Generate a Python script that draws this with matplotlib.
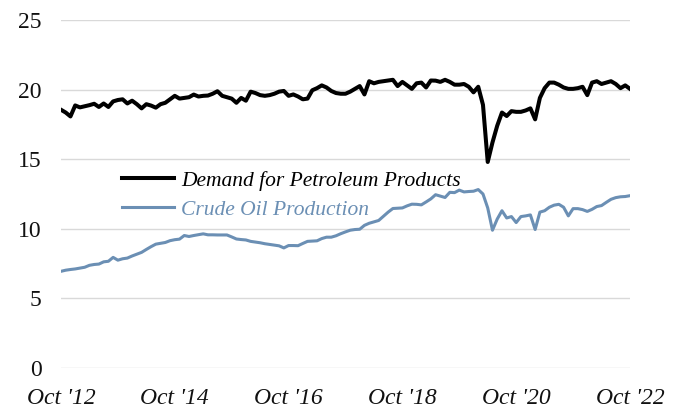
import matplotlib
matplotlib.use("Agg")
import matplotlib.pyplot as plt
import numpy as np

# monthly values, Oct 2012 .. Oct 2022 (million barrels per day)
demand = [18.55, 18.35, 18.07, 18.86, 18.72, 18.8, 18.88, 18.98, 18.75, 19.0,
          18.75, 19.15, 19.25, 19.3, 19.0, 19.2, 18.95, 18.65, 18.95, 18.85,
          18.7, 18.95, 19.05, 19.3, 19.55, 19.35, 19.4, 19.45, 19.64, 19.5,
          19.55, 19.57, 19.7, 19.88, 19.55, 19.45, 19.35, 19.05, 19.4, 19.2,
          19.85, 19.75, 19.6, 19.55, 19.6, 19.7, 19.85, 19.9, 19.55, 19.65,
          19.5, 19.3, 19.35, 19.95, 20.1, 20.3, 20.15, 19.9, 19.75, 19.7,
          19.7, 19.85, 20.05, 20.25, 19.65, 20.6, 20.45, 20.55, 20.6, 20.65,
          20.7, 20.25, 20.55, 20.3, 20.05, 20.45, 20.5, 20.15, 20.65, 20.64,
          20.55, 20.7, 20.55, 20.35, 20.35, 20.4, 20.2, 19.8, 20.2, 18.9,
          14.8, 16.2, 17.4, 18.35, 18.1, 18.45, 18.4, 18.4, 18.5, 18.65,
          17.86, 19.4, 20.1, 20.5, 20.5, 20.35, 20.15, 20.05, 20.05, 20.1,
          20.2, 19.6, 20.5, 20.6, 20.4, 20.5, 20.6, 20.4, 20.1, 20.3,
          20.05]

crude = [6.95, 7.03, 7.08, 7.12, 7.18, 7.24, 7.38, 7.44, 7.47, 7.63,
         7.67, 7.95, 7.75, 7.85, 7.9, 8.05, 8.18, 8.31, 8.52, 8.72,
         8.9, 8.96, 9.02, 9.15, 9.22, 9.26, 9.52, 9.45, 9.52, 9.58,
         9.64, 9.57, 9.57, 9.56, 9.56, 9.56, 9.42, 9.27, 9.23, 9.2,
         9.1, 9.05, 9.0, 8.93, 8.88, 8.83, 8.78, 8.63, 8.8, 8.8,
         8.79, 8.95, 9.1, 9.12, 9.14, 9.3, 9.4, 9.4, 9.5, 9.65,
         9.78, 9.9, 9.95, 9.97, 10.25, 10.4, 10.5, 10.6, 10.9, 11.2,
         11.46, 11.48, 11.5, 11.65, 11.77, 11.76, 11.72, 11.93, 12.15, 12.45,
         12.35, 12.25, 12.62, 12.6, 12.78, 12.65, 12.68, 12.7, 12.82, 12.5,
         11.5, 9.9, 10.7, 11.3, 10.78, 10.88, 10.45, 10.88, 10.93, 11.0,
         9.95, 11.2, 11.3, 11.55, 11.7, 11.76, 11.55, 10.93, 11.45, 11.45,
         11.38, 11.25, 11.4, 11.6, 11.67, 11.9, 12.12, 12.24, 12.3, 12.32,
         12.38]

tick_labels = ["Oct '12", "Oct '14", "Oct '16", "Oct '18", "Oct '20", "Oct '22"]
series_names = ["Demand for Petroleum Products", "Crude Oil Production"]

BLUE = "#6b8fb4"
plt.rcParams['font.family'] = ['Liberation Serif', 'DejaVu Serif']

months = np.arange(len(demand))

fig = plt.figure(figsize=(6.79, 4.15), dpi=100)
ax = fig.add_axes([0.0898, 0.113, 0.838, 0.839])

ax.plot(months, demand, color="black", lw=2.9, label=series_names[0], zorder=3,
        solid_joinstyle="round")
ax.plot(months, crude, color=BLUE, lw=2.2, label=series_names[1], zorder=3,
        solid_joinstyle="round")

ax.set_xlim(0, 120)
ax.set_ylim(0, 25)
ax.set_yticks([0, 5, 10, 15, 20, 25])
ax.set_xticks(np.arange(0, 121, 24))
ax.set_xticklabels(tick_labels, fontstyle="italic")
ax.tick_params(axis="both", length=0, labelsize=17, colors="#111111")
ax.tick_params(axis="x", pad=14)
ax.tick_params(axis="y", pad=14)

ax.grid(axis="y", color="#d9d9d9", lw=1)
ax.set_axisbelow(True)
for s in ax.spines.values():
    s.set_visible(False)

leg = ax.legend(loc="center left", bbox_to_anchor=(0.107, 0.497), frameon=False,
                prop={"style": "italic", "size": 15.5}, handlelength=2.4,
                handletextpad=0.35, labelspacing=0.42, borderaxespad=0,
                borderpad=0)
for txt, c in zip(leg.get_texts(), ["black", BLUE]):
    txt.set_color(c)

fig.savefig("out.png", dpi=100)
